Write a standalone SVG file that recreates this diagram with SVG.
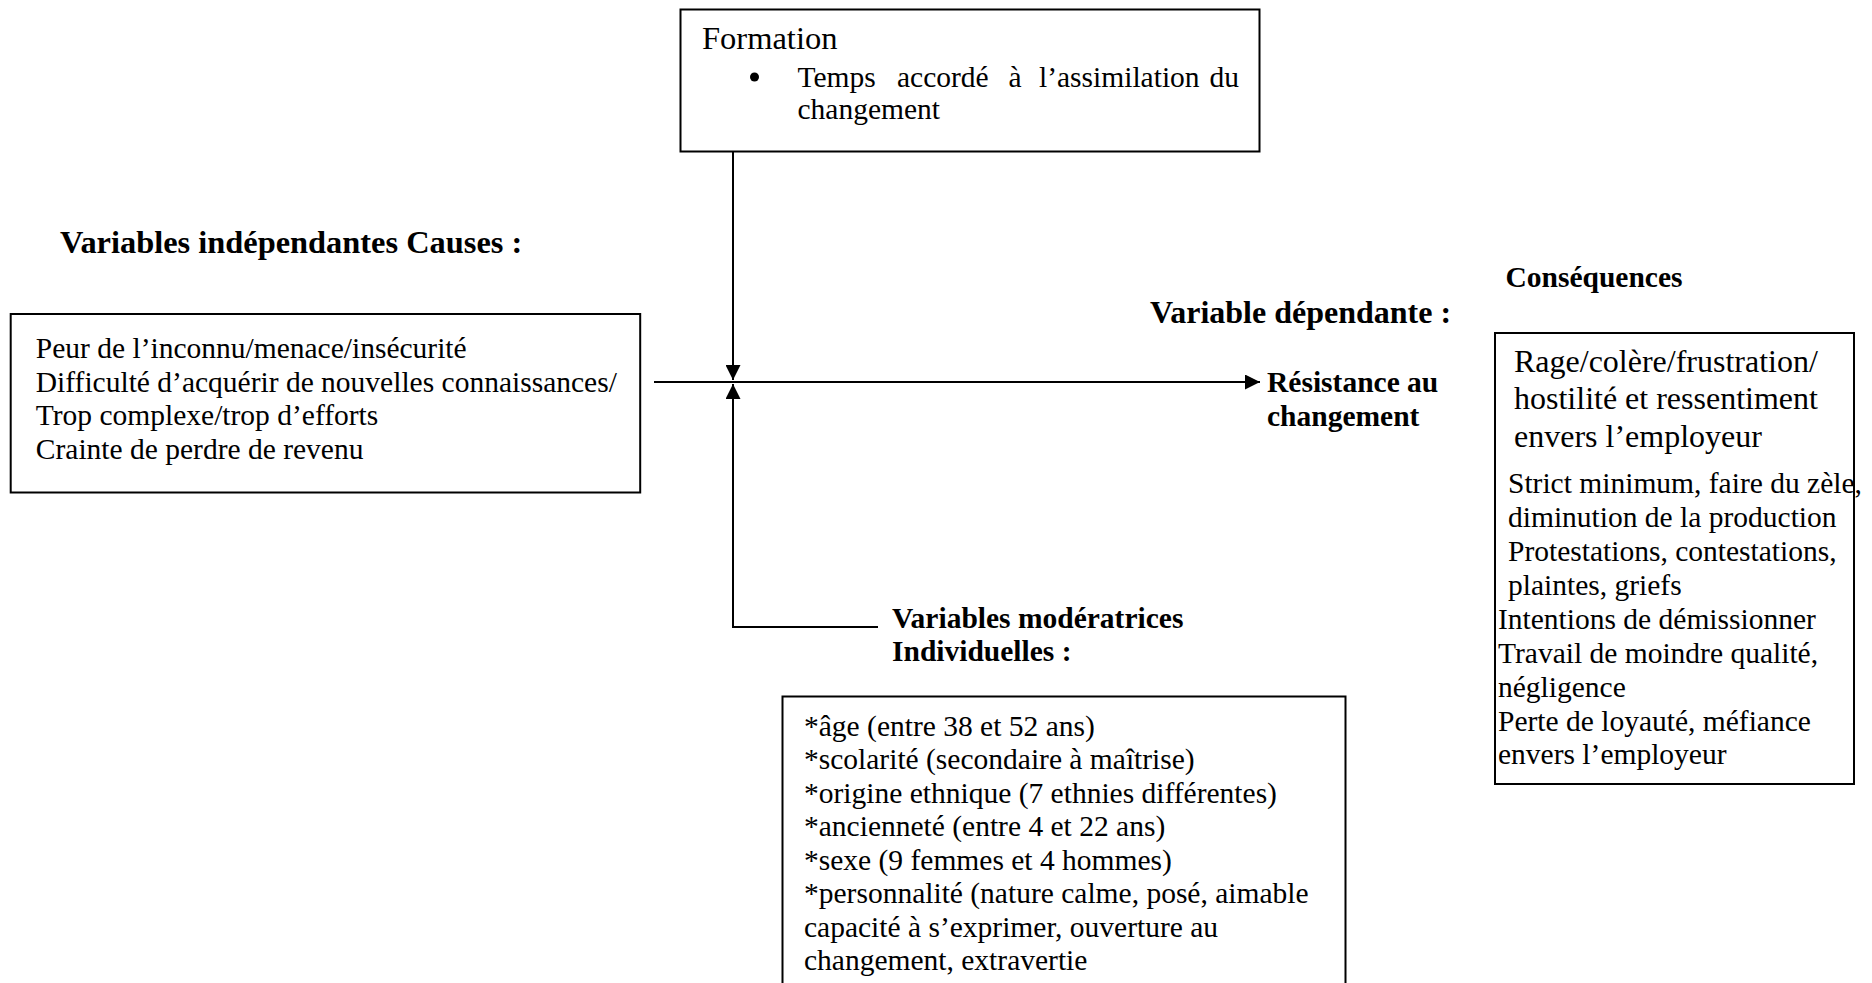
<svg xmlns="http://www.w3.org/2000/svg" width="1872" height="983" viewBox="0 0 1872 983">
  <style>
    .t { font-family: "Liberation Serif", "Times New Roman", serif; font-size: 29.5px; fill: #000; }
    .b { font-weight: bold; }
    .lg { font-size: 32px; }
    .xl { font-size: 32.5px; }
    .hd { font-size: 32.4px; }
    .box { fill: #fff; stroke: #000; stroke-width: 2; }
    .wire { fill: none; stroke: #000; stroke-width: 2; }
  </style>
  <defs>
    <marker id="arrow" markerUnits="userSpaceOnUse" markerWidth="16" markerHeight="15" refX="15" refY="7.5" orient="auto">
      <path d="M0,0 L15,7.5 L0,15 z" fill="#000"/>
    </marker>
  </defs>
  <rect width="1872" height="983" fill="#fff"/>

  <!-- connectors -->
  <g id="connectors">
    <line class="wire" x1="733" y1="152" x2="733" y2="380" marker-end="url(#arrow)"/>
    <path class="wire" d="M878,627 H733 V384" marker-end="url(#arrow)"/>
    <line class="wire" x1="654" y1="382" x2="1260" y2="382" stroke-width="2.5" marker-end="url(#arrow)"/>
  </g>

  <!-- moderating factor: training -->
  <g id="formation">
    <rect class="box" x="680.5" y="9.5" width="579" height="142"/>
    <text class="t xl" x="702" y="49">Formation</text>
    <circle cx="754.5" cy="77" r="4.5" fill="#000"/>
    <!-- justified line: words placed individually -->
    <text class="t" y="87"><tspan x="797.5">Temps</tspan><tspan x="897">accordé</tspan><tspan x="1008.5">à</tspan><tspan x="1039">l’assimilation</tspan><tspan x="1209.5">du</tspan></text>
    <text class="t" x="797.5" y="119">changement</text>
  </g>

  <!-- independent variables -->
  <g id="causes">
    <text class="t b hd" x="60" y="253">Variables indépendantes Causes :</text>
    <rect class="box" x="10.7" y="314" width="629.5" height="178.5"/>
    <text class="t" x="35.8" y="358">Peur de l’inconnu/menace/insécurité</text>
    <text class="t" x="35.8" y="391.5">Difficulté d’acquérir de nouvelles connaissances/</text>
    <text class="t" x="35.8" y="425">Trop complexe/trop d’efforts</text>
    <text class="t" x="35.8" y="458.5">Crainte de perdre de revenu</text>
  </g>

  <!-- dependent variable -->
  <g id="resistance">
    <text class="t b lg" x="1150" y="323">Variable dépendante :</text>
    <text class="t b" x="1267" y="392">Résistance au</text>
    <text class="t b" x="1267" y="426">changement</text>
  </g>

  <!-- consequences -->
  <g id="consequences">
    <text class="t b" x="1505.5" y="287">Conséquences</text>
    <rect class="box" x="1495" y="333" width="359" height="451"/>
    <text class="t lg" x="1514" y="371.5">Rage/colère/frustration/</text>
    <text class="t lg" x="1514" y="409">hostilité et ressentiment</text>
    <text class="t lg" x="1514" y="446.5">envers l’employeur</text>
    <text class="t" x="1508" y="493">Strict minimum, faire du zèle,</text>
    <text class="t" x="1508" y="527">diminution de la production</text>
    <text class="t" x="1508" y="561">Protestations, contestations,</text>
    <text class="t" x="1508" y="595">plaintes, griefs</text>
    <text class="t" x="1498" y="629">Intentions de démissionner</text>
    <text class="t" x="1498" y="663">Travail de moindre qualité,</text>
    <text class="t" x="1498" y="697">négligence</text>
    <text class="t" x="1498" y="731">Perte de loyauté, méfiance</text>
    <text class="t" x="1498" y="764">envers l’employeur</text>
  </g>

  <!-- individual moderating variables -->
  <g id="moderatrices">
    <text class="t b" x="892" y="628">Variables modératrices</text>
    <text class="t b" x="892" y="661">Individuelles :</text>
    <rect class="box" x="782.5" y="696.5" width="563" height="300"/>
    <text class="t" x="804" y="735.6">*âge (entre 38 et 52 ans)</text>
    <text class="t" x="804" y="769.1">*scolarité (secondaire à maîtrise)</text>
    <text class="t" x="804" y="802.6">*origine ethnique (7 ethnies différentes)</text>
    <text class="t" x="804" y="836.1">*ancienneté (entre 4 et 22 ans)</text>
    <text class="t" x="804" y="869.6">*sexe (9 femmes et 4 hommes)</text>
    <text class="t" x="804" y="903.1">*personnalité (nature calme, posé, aimable</text>
    <text class="t" x="804" y="936.6">capacité à s’exprimer, ouverture au</text>
    <text class="t" x="804" y="970.1">changement, extravertie</text>
  </g>
</svg>
